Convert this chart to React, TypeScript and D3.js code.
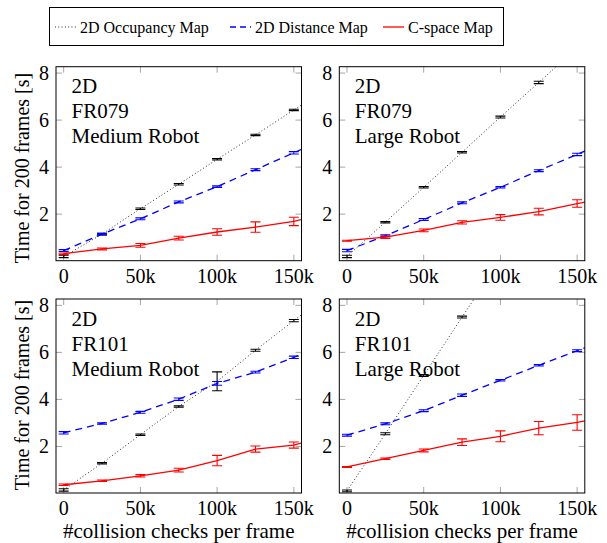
import * as d3 from 'd3'

const WIDTH = 607
const HEIGHT = 543
const FONT = 'Liberation Serif, Nimbus Roman, Tinos, FreeSerif'

// collision checks per frame (last one lies past the axis and is clipped)
const checks = [0, 25000, 50000, 75000, 100000, 125000, 150000, 175000]
const xTicks = [0, 50000, 100000, 150000]
const xTickLabels = ['0', '50k', '100k', '150k']
const yTicks = [2, 4, 6, 8]

const seriesNames = ['2D Occupancy Map', '2D Distance Map', 'C-space Map']

// FR079, medium robot
const occ079M = [0.2, 1.15, 2.23, 3.27, 4.33, 5.37, 6.43, 7.5]
const occ079MErr = [0.05, 0.03, 0.03, 0.03, 0.03, 0.03, 0.03, 0]
const dist079M = [0.45, 1.15, 1.8, 2.52, 3.17, 3.89, 4.61, 5.33]
const dist079MErr = [0.04, 0.03, 0.04, 0.04, 0.03, 0.04, 0.05, 0]
const cs079M = [0.32, 0.52, 0.67, 0.98, 1.24, 1.45, 1.69, 2.1]
const cs079MErr = [0.03, 0.04, 0.08, 0.08, 0.14, 0.22, 0.18, 0]

// FR079, large robot
const occ079L = [0.2, 1.66, 3.14, 4.63, 6.13, 7.6, 9.08, 10.56]
const occ079LErr = [0.05, 0.03, 0.03, 0.03, 0.04, 0.05, 0.05, 0]
const dist079L = [0.45, 1.08, 1.77, 2.48, 3.14, 3.85, 4.54, 5.24]
const dist079LErr = [0.05, 0.04, 0.04, 0.04, 0.03, 0.04, 0.05, 0]
const cs079L = [0.87, 1.02, 1.31, 1.65, 1.86, 2.11, 2.45, 2.75]
const cs079LErr = [0.02, 0.05, 0.06, 0.07, 0.12, 0.14, 0.16, 0]

// FR101, medium robot
const occ101M = [0.15, 1.29, 2.5, 3.7, 4.77, 6.09, 7.35, 8.6]
const occ101MErr = [0.05, 0.03, 0.03, 0.03, 0.4, 0.04, 0.05, 0]
const dist101M = [2.58, 2.98, 3.45, 4.01, 4.68, 5.16, 5.79, 6.42]
const dist101MErr = [0.05, 0.03, 0.04, 0.05, 0.08, 0.04, 0.05, 0]
const cs101M = [0.37, 0.54, 0.75, 0.99, 1.4, 1.89, 2.06, 2.5]
const cs101MErr = [0.03, 0.03, 0.05, 0.08, 0.22, 0.13, 0.13, 0]

// FR101, large robot
const occ101L = [0.11, 2.54, 5.02, 7.5, 9.96, 12.4, 14.9, 17.4]
const occ101LErr = [0.04, 0.04, 0.04, 0.04, 0, 0, 0, 0]
const dist101L = [2.48, 2.96, 3.52, 4.18, 4.81, 5.45, 6.07, 6.7]
const dist101LErr = [0.04, 0.04, 0.04, 0.05, 0.03, 0.03, 0.04, 0]
const cs101L = [1.13, 1.48, 1.83, 2.18, 2.43, 2.78, 3.02, 3.35]
const cs101LErr = [0.02, 0.03, 0.06, 0.14, 0.23, 0.28, 0.33, 0]

const panels = [
  { id: 'p0', col: 0, row: 0, lines: ['2D', 'FR079', 'Medium Robot'],
    values: [occ079M, dist079M, cs079M], errors: [occ079MErr, dist079MErr, cs079MErr] },
  { id: 'p1', col: 1, row: 0, lines: ['2D', 'FR079', 'Large Robot'],
    values: [occ079L, dist079L, cs079L], errors: [occ079LErr, dist079LErr, cs079LErr] },
  { id: 'p2', col: 0, row: 1, lines: ['2D', 'FR101', 'Medium Robot'],
    values: [occ101M, dist101M, cs101M], errors: [occ101MErr, dist101MErr, cs101MErr] },
  { id: 'p3', col: 1, row: 1, lines: ['2D', 'FR101', 'Large Robot'],
    values: [occ101L, dist101L, cs101L], errors: [occ101LErr, dist101LErr, cs101LErr] },
]

// line styles per series
const styles = [
  { color: '#000', width: 0.9, dash: '0.9 2.4' },
  { color: '#0000ff', width: 1.3, dash: '7 5' },
  { color: '#ff0000', width: 1.3, dash: undefined },
]

const COL_X = [56, 339.3]
const ROW_Y = [66.7, 299]
const PW = 245.5
const PH = 194
const TICK = 6
const CAP = 5

type Panel = (typeof panels)[number]

function PanelView({ p }: { p: Panel }) {
  const left = COL_X[p.col]
  const top = ROW_Y[p.row]
  const x = d3.scaleLinear().domain([-5000, 155000]).range([left, left + PW])
  const y = d3.scaleLinear().domain([0.02, 8.27]).range([top + PH, top])
  const line = d3.line<number>().x((_, i) => x(checks[i])).y(v => y(v))

  return (
    <g>
      <defs>
        <clipPath id={`clip-${p.id}`}>
          <rect x={left} y={top} width={PW} height={PH} />
        </clipPath>
      </defs>

      {/* grey inner ticks, all four sides */}
      <g stroke="#a6a6a6" strokeWidth={1}>
        {xTicks.map(t => (
          <g key={t}>
            <line x1={x(t)} x2={x(t)} y1={top + PH} y2={top + PH - TICK} />
            <line x1={x(t)} x2={x(t)} y1={top} y2={top + TICK} />
          </g>
        ))}
        {yTicks.map(t => (
          <g key={t}>
            <line x1={left} x2={left + TICK} y1={y(t)} y2={y(t)} />
            <line x1={left + PW} x2={left + PW - TICK} y1={y(t)} y2={y(t)} />
          </g>
        ))}
      </g>

      {xTicks.map((t, i) => (
        <text key={t} x={x(t)} y={top + PH + 22} textAnchor="middle" fontFamily={FONT} fontSize={20}>
          {xTickLabels[i]}
        </text>
      ))}
      {yTicks.map(t => (
        <text key={t} x={left - 7} y={y(t) + 7} textAnchor="end" fontFamily={FONT} fontSize={20}>
          {t}
        </text>
      ))}

      <g clipPath={`url(#clip-${p.id})`}>
        {p.values.map((vals, s) => {
          const st = styles[s]
          const errs = p.errors[s]
          return (
            <g key={s}>
              <path d={line(vals) ?? ''} fill="none" stroke={st.color}
                strokeWidth={st.width} strokeDasharray={st.dash} />
              <g stroke={st.color} strokeWidth={1.1}>
                {vals.map((v, i) => {
                  const e = errs[i]
                  if (e <= 0) return null
                  const cx = x(checks[i])
                  return (
                    <g key={i}>
                      <line x1={cx} x2={cx} y1={y(v - e)} y2={y(v + e)} />
                      <line x1={cx - CAP} x2={cx + CAP} y1={y(v - e)} y2={y(v - e)} />
                      <line x1={cx - CAP} x2={cx + CAP} y1={y(v + e)} y2={y(v + e)} />
                    </g>
                  )
                })}
              </g>
            </g>
          )
        })}
      </g>

      <rect x={left} y={top} width={PW} height={PH} fill="none" stroke="#000" strokeWidth={1} />

      {p.lines.map((l, i) => (
        <text key={i} x={left + 15.5} y={top + 26.5 + i * 25} fontFamily={FONT} fontSize={21}>{l}</text>
      ))}

      {p.col === 0 && (
        <text transform={`translate(29, ${p.row === 0 ? 168 : 395}) rotate(-90)`}
          textAnchor="middle" fontFamily={FONT} fontSize={20}>
          Time for 200 frames [s]
        </text>
      )}
      {p.row === 1 && (
        <text x={left + PW / 2} y={538} textAnchor="middle" fontFamily={FONT} fontSize={21}>
          #collision checks per frame
        </text>
      )}
    </g>
  )
}

export default function App() {
  const sampleX = [55, 230, 383]
  return (
    <svg width={WIDTH} height={HEIGHT} fontFamily={FONT}
      style={{ position: 'absolute', left: 0, top: 0, background: '#fff' }}>
      {panels.map(p => <PanelView key={p.id} p={p} />)}

      <g>
        <rect x={49.5} y={7.5} width={454} height={38} fill="#fff" stroke="#000" strokeWidth={1} />
        {seriesNames.map((name, s) => {
          const st = styles[s]
          return (
            <g key={name}>
              <line x1={sampleX[s]} x2={sampleX[s] + 21} y1={27} y2={27}
                stroke={st.color} strokeWidth={st.width}
                strokeDasharray={s === 1 ? '6 4' : st.dash} />
              <text x={sampleX[s] + 25} y={32.5} fontFamily={FONT} fontSize={16}>
                {name}
              </text>
            </g>
          )
        })}
      </g>
    </svg>
  )
}
